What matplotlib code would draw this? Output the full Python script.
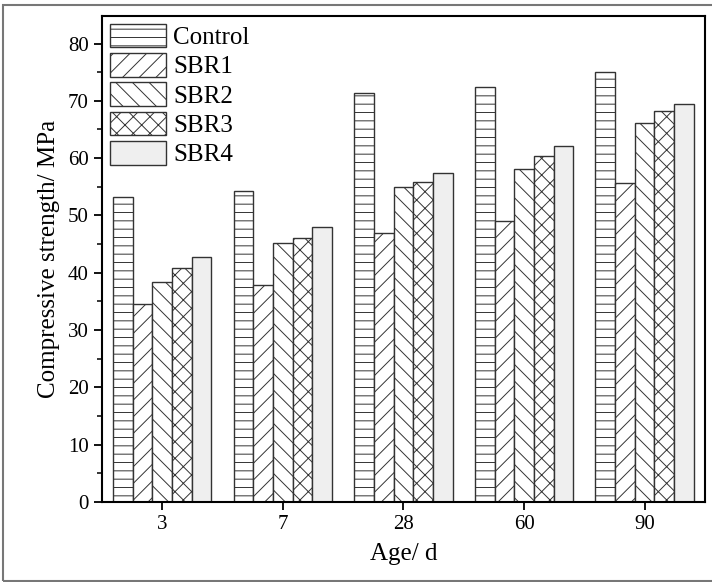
import numpy as np
import matplotlib
matplotlib.use('Agg')
import matplotlib.pyplot as plt
from matplotlib.patches import Rectangle

plt.rcParams['font.family'] = ['Liberation Serif', 'DejaVu Serif']
plt.rcParams['hatch.linewidth'] = 0.7

ages = ['3', '7', '28', '60', '90']
series = ['Control', 'SBR1', 'SBR2', 'SBR3', 'SBR4']
control = [53.2, 54.3, 71.3, 72.4, 75.1]
sbr1 = [34.5, 37.8, 47.0, 49.1, 55.7]
sbr2 = [38.3, 45.2, 55.0, 58.1, 66.2]
sbr3 = [40.8, 46.0, 55.9, 60.4, 68.3]
sbr4 = [42.8, 48.0, 57.4, 62.1, 69.4]
values = [control, sbr1, sbr2, sbr3, sbr4]

hatches = ['--', '//', '\\\\', 'xx', '']
faces = ['white', 'white', 'white', 'white', '#efefef']

fig = plt.figure(figsize=(7.12, 5.82), dpi=100)
ax = fig.add_axes([0.1433, 0.1375, 0.8467, 0.835])

x = np.arange(len(ages))
w = 0.163
for i, (name, vals) in enumerate(zip(series, values)):
    ax.bar(x + (i - 2) * w, vals, width=w, facecolor=faces[i],
           edgecolor='#333333', linewidth=1.0, hatch=hatches[i], label=name)

ax.set_xlim(-0.5, 4.5)
ax.set_ylim(0, 84.8)
ax.set_xticks(x)
ax.set_xticklabels(ages)
ax.set_yticks(np.arange(0, 81, 10))
ax.set_yticks(np.arange(5, 81, 10), minor=True)
ax.tick_params(axis='both', which='major', direction='out', length=6,
               width=1.3, labelsize=15)
ax.tick_params(axis='y', which='minor', direction='out', length=3.5, width=1.1)
for s in ax.spines.values():
    s.set_linewidth(1.5)

ax.set_xlabel('Age/ d', fontsize=18, labelpad=6)
ax.set_ylabel('Compressive strength/ MPa', fontsize=18, labelpad=6)

ax.legend(loc='upper left', fontsize=18, frameon=False, handlelength=2.24,
          handleheight=1.08, labelspacing=0.16, handletextpad=0.3,
          borderaxespad=0.2, borderpad=0.1)

fig.patches.append(Rectangle((3 / 712, 1 / 582), 1.02, 576 / 582,
                             transform=fig.transFigure, fill=False,
                             edgecolor='#777777', linewidth=1.5,
                             clip_on=False))

fig.savefig('out.png', dpi=100)
